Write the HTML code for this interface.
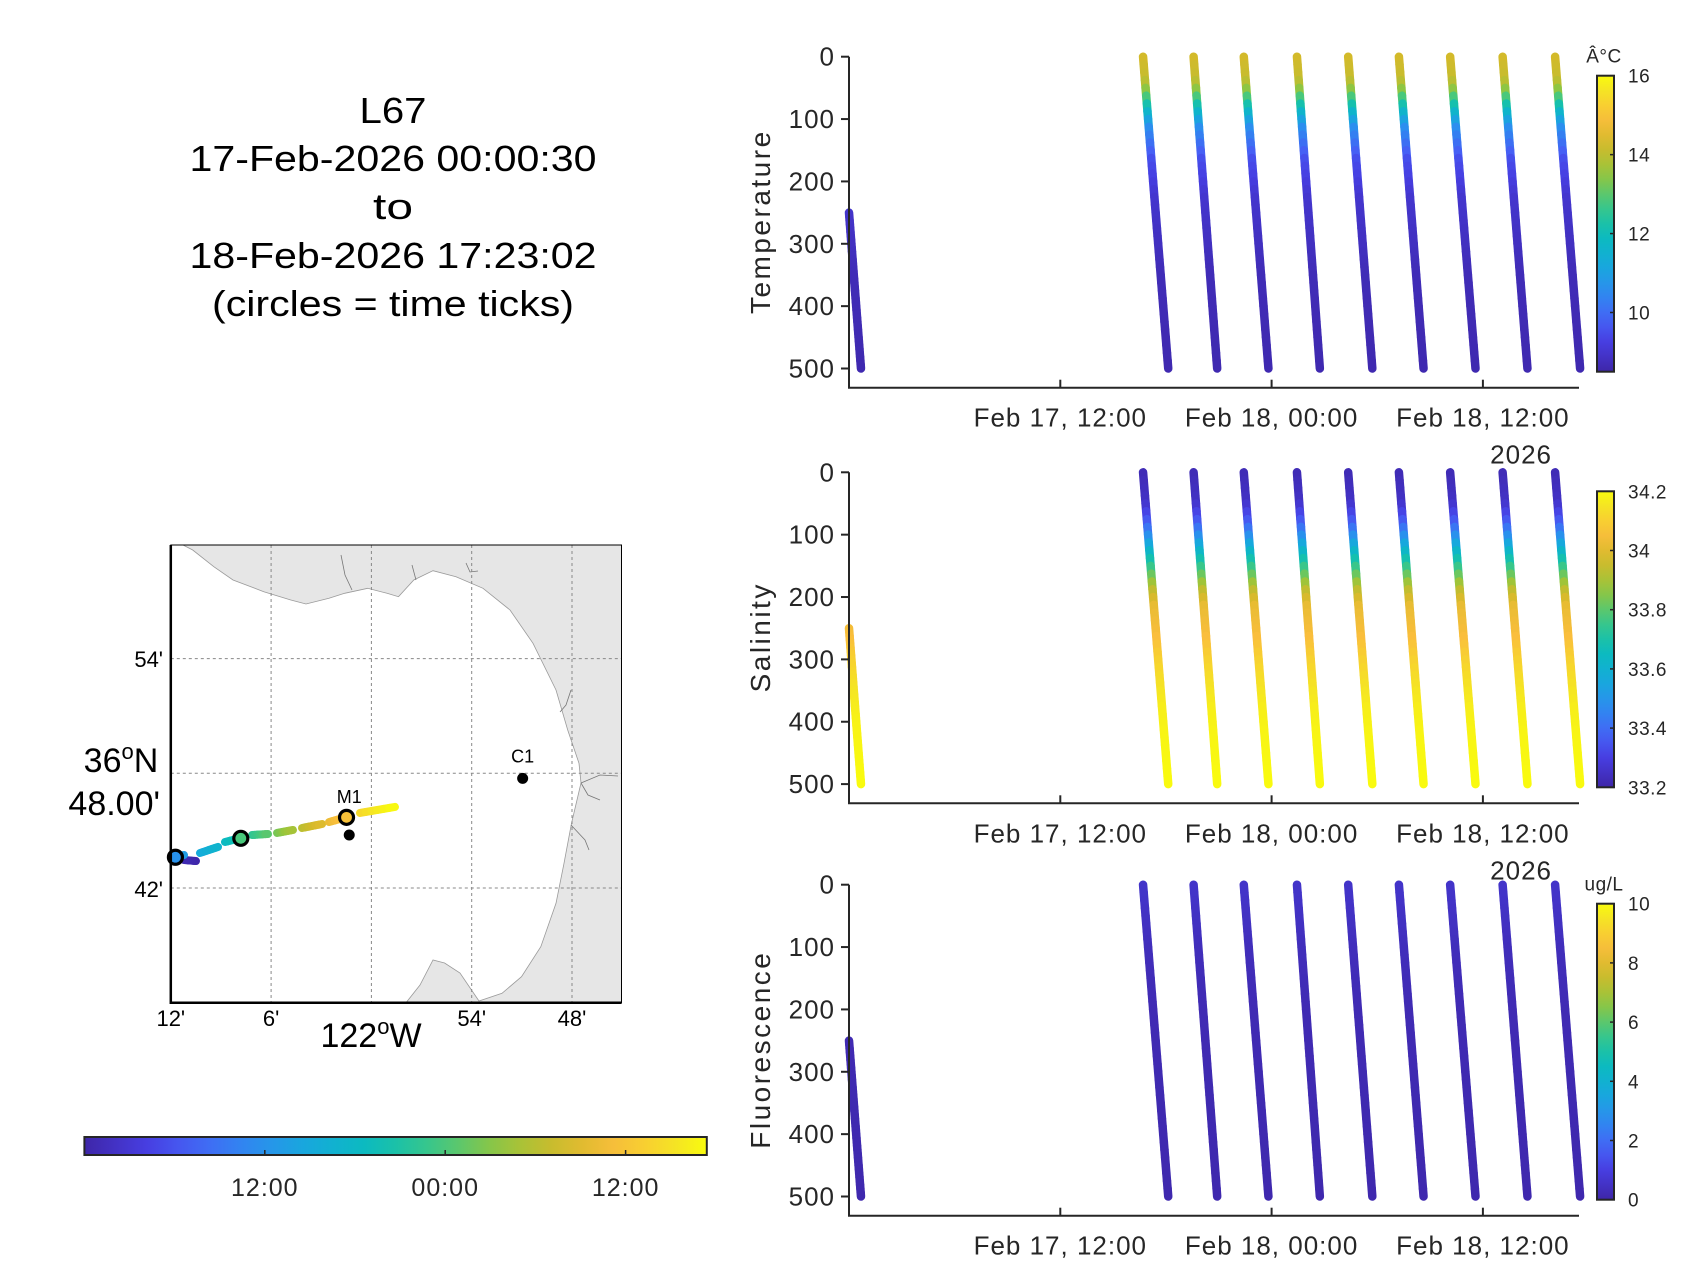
<!DOCTYPE html>
<html><head><meta charset="utf-8">
<style>
html,body{margin:0;padding:0;background:#fff;}
svg{display:block;font-family:"Liberation Sans",Arial,sans-serif;}
.tk{font-size:26px;fill:#262626;letter-spacing:1px;}
.cb{font-size:19px;fill:#262626;letter-spacing:0.5px;}
.yl{font-size:28px;fill:#262626;letter-spacing:2.5px;}
</style></head>
<body>
<svg id="root" width="1697" height="1273" viewBox="0 0 1697 1273">
<defs><linearGradient id="tgrad" x1="0" x2="1" y1="0" y2="0"></linearGradient></defs>
<g id="title" font-size="36" fill="#000" text-anchor="middle">
<text x="393" y="123" textLength="67" lengthAdjust="spacingAndGlyphs">L67</text>
<text x="393" y="171" textLength="407" lengthAdjust="spacingAndGlyphs">17-Feb-2026 00:00:30</text>
<text x="393" y="219" textLength="40" lengthAdjust="spacingAndGlyphs">to</text>
<text x="393" y="268" textLength="407" lengthAdjust="spacingAndGlyphs">18-Feb-2026 17:23:02</text>
<text x="393" y="316" textLength="362" lengthAdjust="spacingAndGlyphs">(circles = time ticks)</text>
</g>
<g id="map"></g>
<g id="tbar"></g>
<g id="panels"></g>
</svg>
<script>
// ---------- data ----------
const diveStartH = [0, 16.70, 19.57, 22.42, 25.44, 28.35, 31.23, 34.14, 37.12, 40.10];
const diveEndH   = [0.68, 18.13, 20.91, 23.82, 26.74, 29.72, 32.63, 35.58, 38.53, 41.52];
const diveStartDepth = [250, 0, 0, 0, 0, 0, 0, 0, 0, 0];
const diveEndDepth   = [500, 500, 500, 500, 500, 500, 500, 500, 500, 500];
const tempDepths = [0, 40, 60, 85, 117, 170, 230, 350, 500];
const tempValues = [14.3, 14.1, 13.3, 12.0, 10.6, 9.5, 9.0, 8.7, 8.6];
const salDepths = [0, 50, 80, 100, 130, 165, 190, 220, 260, 300, 350, 400, 500];
const salValues = [33.22, 33.25, 33.35, 33.45, 33.62, 33.8, 33.93, 34.02, 34.05, 34.1, 34.15, 34.18, 34.2];
const fluDepths = [0, 50, 100, 200, 500];
const fluValues = [0.6, 0.5, 0.35, 0.2, 0.1];
const depthTicks = [0, 100, 200, 300, 400, 500];
const timeTickH = [12, 24, 36];
const timeTickLabels = ["Feb 17, 12:00", "Feb 18, 00:00", "Feb 18, 12:00"];
const tempCbTicks = [10, 12, 14, 16];
const salCbTicks = [33.2, 33.4, 33.6, 33.8, 34, 34.2];
const fluCbTicks = [0, 2, 4, 6, 8, 10];
// track segments (hours, lon, lat)
const trackT0 = [0, 12, 15, 18, 22, 26, 30, 34, 38];
const trackT1 = [0.7, 13.5, 17, 21, 25, 29, 33, 37, 41.4];
const trackLon0 = [-122.1749, -122.1958, -122.1709, -122.1460, -122.1190, -122.0941, -122.0692, -122.0423, -122.0114];
const trackLat0 = [36.7235, 36.7270, 36.7305, 36.7401, 36.7462, 36.7480, 36.7523, 36.7575, 36.7654];
const trackLon1 = [-122.1868, -122.1868, -122.1529, -122.1300, -122.1031, -122.0782, -122.0492, -122.0243, -121.9765];
const trackLat1 = [36.7244, 36.7288, 36.7358, 36.7436, 36.7471, 36.7506, 36.7558, 36.7619, 36.7707];
const circleT = [12, 24, 36];
const circleLon = [-122.1954, -122.1302, -122.0248];
const circleLat = [36.7268, 36.7433, 36.7616];
const stationNames = ["M1", "C1"];
const stationLon = [-122.0221, -121.8492];
const stationLat = [36.7462, 36.7956];
const tbarTicksH = [12, 24, 36];
const tbarLabels = ["12:00", "00:00", "12:00"];

// ---------- helpers ----------
const NS = "http://www.w3.org/2000/svg";
function mk(tag, attrs, parent){const e=document.createElementNS(NS,tag);for(const k in attrs)e.setAttribute(k,attrs[k]);if(parent)parent.appendChild(e);return e;}
const PAR=[[0,[62,38,168]],[0.1,[71,62,225]],[0.17,[70,95,245]],[0.27,[45,140,240]],[0.37,[20,172,218]],[0.47,[10,190,185]],[0.57,[65,200,130]],[0.67,[150,198,60]],[0.77,[212,186,42]],[0.86,[250,190,60]],[0.95,[245,228,36]],[1,[249,251,14]]];
function parula(f){f=Math.max(0,Math.min(1,f));for(let i=1;i<PAR.length;i++){if(f<=PAR[i][0]){const a=PAR[i-1],b=PAR[i];const u=(f-a[0])/(b[0]-a[0]);const c=a[1].map((v,j)=>Math.round(v+(b[1][j]-v)*u));return `rgb(${c[0]},${c[1]},${c[2]})`;}}return "rgb(249,251,14)";}
function interp(xs,ys,x){if(x<=xs[0])return ys[0];for(let i=1;i<xs.length;i++){if(x<=xs[i]){const u=(x-xs[i-1])/(xs[i]-xs[i-1]);return ys[i-1]+u*(ys[i]-ys[i-1]);}}return ys[ys.length-1];}

// ---------- panels ----------
const X0=849, XEND=1579, PXH=211.3/12;
function xT(h){return X0+h*PXH;}
const DY=0.6236;
const panels=[
 {name:"temperature",label:"Temperature",y0:56.7,depths:tempDepths,vals:tempValues,vmin:8.5,vmax:16,ticks:tempCbTicks,unit:"Â°C"},
 {name:"salinity",label:"Salinity",y0:472.3,depths:salDepths,vals:salValues,vmin:33.2,vmax:34.2,ticks:salCbTicks,unit:""},
 {name:"fluorescence",label:"Fluorescence",y0:884.7,depths:fluDepths,vals:fluValues,vmin:0,vmax:10,ticks:fluCbTicks,unit:"ug/L"}
];
const PG=document.getElementById("panels");
panels.forEach(p=>{
  const g=mk("g",{},PG);
  
  
  const yD=d=>p.y0+d*DY;
  const yBot=p.y0+331;
  for(let i=0;i<diveStartH.length;i++){
    const dg=mk("g",{},g);
    
    
    const N=40;
    for(let k=0;k<N;k++){
      const a=k/N,b=(k+1)/N;
      const da=diveStartDepth[i]+(diveEndDepth[i]-diveStartDepth[i])*a;
      const db=diveStartDepth[i]+(diveEndDepth[i]-diveStartDepth[i])*b;
      const ta=diveStartH[i]+(diveEndH[i]-diveStartH[i])*a;
      const tb=diveStartH[i]+(diveEndH[i]-diveStartH[i])*b;
      const v=interp(p.depths,p.vals,(da+db)/2);
      mk("line",{x1:xT(ta),y1:yD(da),x2:xT(tb),y2:yD(db),stroke:parula((v-p.vmin)/(p.vmax-p.vmin)),"stroke-width":8.5,"stroke-linecap":"round"},dg);
    }
  }
  const ax=mk("path",{d:`M${X0},${p.y0} V${yBot} H${XEND}`,fill:"none",stroke:"#262626","stroke-width":2},g);
  
  
  depthTicks.forEach(d=>{
    mk("line",{x1:X0-8,x2:X0,y1:yD(d),y2:yD(d),stroke:"#262626","stroke-width":2},g);
    const t=mk("text",{x:835,y:yD(d)+9,"text-anchor":"end",class:"tk"},g);
    t.textContent=d;
    
    
  });
  timeTickH.forEach((h,i)=>{
    mk("line",{x1:xT(h),x2:xT(h),y1:yBot,y2:yBot-8,stroke:"#262626","stroke-width":2},g);
    const t=mk("text",{x:xT(h),y:yBot+39,"text-anchor":"middle",class:"tk"},g);
    t.textContent=timeTickLabels[i];
    
    
  });
  const yr=mk("text",{x:1552,y:yBot+76,"text-anchor":"end",class:"tk"},g);
  yr.textContent="2026";
  
  
  const yl=mk("text",{x:0,y:0,"text-anchor":"middle",class:"yl",transform:`translate(770,${p.y0+165}) rotate(-90)`},g);
  yl.textContent=p.label;
  
  
  const cg=mk("g",{},g);
  
  
  const cbT=p.y0+19, cbH=296, cbX=1597, cbW=17;
  const gid="cg"+p.name;
  const lg=mk("linearGradient",{id:gid,x1:0,x2:0,y1:1,y2:0},document.querySelector("defs"));
  for(let s=0;s<=20;s++)mk("stop",{offset:s/20,"stop-color":parula(s/20)},lg);
  mk("rect",{x:cbX,y:cbT,width:cbW,height:cbH,fill:`url(#${gid})`,stroke:"#262626","stroke-width":2},cg);
  const cy=v=>cbT+cbH-(v-p.vmin)/(p.vmax-p.vmin)*cbH;
  p.ticks.forEach(v=>{
    mk("line",{x1:cbX+cbW-4,x2:cbX+cbW,y1:cy(v),y2:cy(v),stroke:"#262626","stroke-width":1.5},cg);
    const t=mk("text",{x:1628,y:cy(v)+7,class:"cb"},cg);
    t.textContent=String(v);
    
    
  });
  if(p.unit){
    const u=mk("text",{x:1604,y:p.y0+6,"text-anchor":"middle",class:"cb"},cg);
    u.textContent=p.unit;
    
    
  }
});

// ---------- map ----------
const MG=document.getElementById("map");
const MX0=170.8,MX1=621.5,MY0=545,MY1=1002.7;
const lonMin=-122.2, latMin=36.6;
function mx(lon){return MX0+(lon-lonMin)*1003;}
function my(lat){return MY1-(lat-latMin)*1147;}
mk("rect",{x:MX0,y:MY0,width:MX1-MX0,height:MY1-MY0,fill:"#fff"},MG);
const land=mk("path",{d:"M183,545 L192.7,550 L213.8,566.7 L233,580 L263.8,591.7 L290.8,600 L306,604 L329,598.3 L344.6,593.3 L367.7,588.3 L387,593.3 L398.5,596.7 L413.8,580 L433,570.7 L456,576.7 L483,588.3 L510,610 L533,643.3 L556,690 L567.7,730 L579,763.3 L581,783 L571.5,823.3 L564,863.3 L556,903.3 L540.8,946.7 L521.5,976.7 L502,993.3 L479,1001 L471.5,990 L460,973 L444.6,963 L433,960 L420,985 L406,1002.7 L621.5,1002.7 L621.5,545 Z",fill:"#e6e6e6",stroke:"#9a9a9a","stroke-width":0.8},MG);


const riv=mk("path",{d:"M341,555 L345,575 L352,590 M412,565 L416,580 M466,563 L470,572 L478,571 M571,690 L566,705 L560,712 M581,783 L600,775 L618,776 M581,783 L588,795 L600,800 M571,825 L585,840 L589,850",fill:"none",stroke:"#777","stroke-width":0.8},MG);


const grid=mk("g",{stroke:"#888","stroke-width":1,"stroke-dasharray":"3,3"},MG);


[-122.1,-122.0,-121.9,-121.8].forEach(l=>mk("line",{x1:mx(l),x2:mx(l),y1:MY0,y2:MY1},grid));
[36.7,36.8,36.9].forEach(l=>mk("line",{x1:MX0,x2:MX1,y1:my(l),y2:my(l)},grid));
const TMAX=41.4;
for(let i=0;i<trackT0.length;i++){
  const sg=mk("g",{},MG);
  
  
  const N=6;
  for(let k=0;k<N;k++){
    const a=k/N,b=(k+1)/N;
    const lonA=trackLon0[i]+(trackLon1[i]-trackLon0[i])*a, lonB=trackLon0[i]+(trackLon1[i]-trackLon0[i])*b;
    const latA=trackLat0[i]+(trackLat1[i]-trackLat0[i])*a, latB=trackLat0[i]+(trackLat1[i]-trackLat0[i])*b;
    const t=trackT0[i]+(trackT1[i]-trackT0[i])*(a+b)/2;
    mk("line",{x1:mx(lonA),y1:my(latA),x2:mx(lonB),y2:my(latB),stroke:parula(t/TMAX),"stroke-width":8,"stroke-linecap":"round"},sg);
  }
}
for(let i=0;i<circleT.length;i++){
  const c=mk("circle",{cx:mx(circleLon[i]),cy:my(circleLat[i]),r:7,fill:parula(circleT[i]/TMAX),stroke:"#000","stroke-width":3.2},MG);
  
  
}
for(let i=0;i<stationNames.length;i++){
  const d=mk("circle",{cx:mx(stationLon[i]),cy:my(stationLat[i]),r:5.5,fill:"#000"},MG);
  
  
  const t=mk("text",{x:mx(stationLon[i]),y:my(stationLat[i])-(i===0?32:16),"text-anchor":"middle","font-size":18,fill:"#000"},MG);
  t.textContent=stationNames[i];
  
  
}
const fr=mk("path",{d:`M${MX0},${MY0} H${MX1} V${MY1} H${MX0} Z`,fill:"none",stroke:"#000","stroke-width":1},MG);


mk("path",{d:`M${MX0},${MY0} V${MY1} H${MX1}`,fill:"none",stroke:"#000","stroke-width":2.5},MG);
function mtext(x,y,s,size,anchor,name){const t=mk("text",{x:x,y:y,"text-anchor":anchor,"font-size":size,fill:"#000"},MG);t.innerHTML=s;return t;}
mtext(163,667,"54'",22,"end","lat-tick-label");
mtext(163,897,"42'",22,"end","lat-tick-label");
mtext(121,772,'36<tspan font-size="22" dy="-13">o</tspan><tspan dy="13">N</tspan>',34,"middle","lat-label");
mtext(160,815,"48.00'",34,"end","lat-label-minutes");
[["12'",-122.2],["6'",-122.1],["54'",-121.9],["48'",-121.8]].forEach(a=>mtext(mx(a[1]),1026,a[0],22,"middle","lon-tick-label"));
mtext(371,1047,'122<tspan font-size="22" dy="-13">o</tspan><tspan dy="13">W</tspan>',34,"middle","lon-label");

// ---------- time colorbar ----------
const TB=document.getElementById("tbar");
const tg=document.getElementById("tgrad");
for(let s=0;s<=20;s++)mk("stop",{offset:s/20,"stop-color":parula(s/20)},tg);
const TBX0=84.4,TBX1=706.8;
mk("rect",{x:TBX0,y:1137,width:TBX1-TBX0,height:18,fill:"url(#tgrad)",stroke:"#262626","stroke-width":2},TB);
tbarTicksH.forEach((h,i)=>{
  const x=TBX0+h/TMAX*(TBX1-TBX0);
  mk("line",{x1:x,x2:x,y1:1155,y2:1150,stroke:"#262626","stroke-width":1.5},TB);
  const t=mk("text",{x:x,y:1196,"text-anchor":"middle","font-size":25,fill:"#262626","letter-spacing":"1"},TB);
  t.textContent=tbarLabels[i];
  
  
});
</script>
</body></html>
